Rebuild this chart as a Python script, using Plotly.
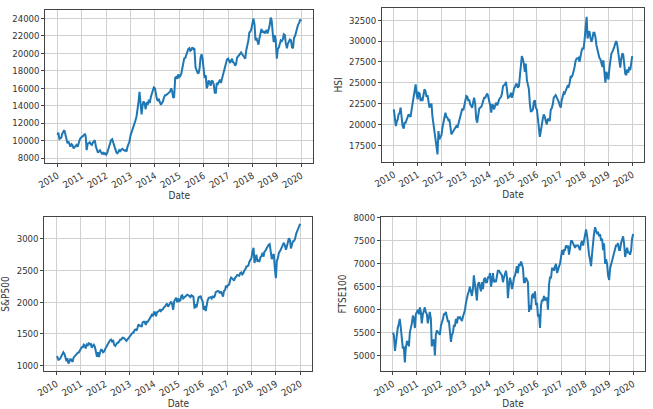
import pandas as pd
import plotly.graph_objects as go

# ---------------- data (semi-monthly readings, 2010-01 .. 2019-12, plus year end) ----------------
nikkei = [
    10650, 10900, 10200, 10300, 10350, 10800, 11100, 11200, 10700, 10200, 9700, 9900,
    9500, 9300, 9600, 9500, 9100, 9250, 9300, 9500, 9300, 9750, 10100, 10300,
    10400, 10500, 10600, 10800, 10500, 8900, 9650, 9700, 9800, 9600, 9500, 9750,
    9950, 10050, 9300, 9050, 8600, 8750, 8900, 8700, 8500, 8600, 8450, 8550,
    8400, 8550, 8900, 9300, 9700, 10050, 10150, 9800, 9400, 9000, 8700, 8550,
    8650, 8900, 8800, 8950, 9050, 8950, 8850, 8900, 8750, 9250, 9500, 9900,
    10600, 10900, 11300, 11500, 11900, 12300, 12800, 13500, 14500, 15600, 13500, 13000,
    14100, 14500, 14200, 13600, 14400, 14100, 14700, 14300, 15000, 15400, 15600, 16100,
    16000, 15300, 14700, 14600, 14800, 14400, 14100, 14300, 14500, 14900, 15200, 15200,
    15300, 15400, 15500, 15600, 16000, 15700, 14900, 15000, 17200, 17300, 17100, 17600,
    17300, 17400, 17700, 18300, 18800, 19400, 19500, 19900, 20200, 20500, 20600, 20300,
    20400, 20700, 20500, 20600, 18400, 18000, 17800, 17700, 18300, 19500, 19900, 19400,
    18500, 17200, 17500, 16000, 16300, 16900, 16700, 16300, 16900, 16800, 16400, 15500,
    15500, 16600, 16500, 16700, 17000, 16600, 17100, 17200, 17800, 18400, 19000, 19300,
    19400, 19100, 18900, 19200, 19400, 19000, 18900, 18600, 18800, 19500, 19700, 19900,
    20000, 20100, 19900, 19700, 19600, 19400, 20400, 20800, 21500, 22400, 22500, 22800,
    23400, 24000, 23300, 21500, 21800, 21300, 21000, 21700, 22300, 22800, 22400, 22600,
    22300, 22500, 22700, 22300, 22800, 23200, 24100, 23800, 22300, 21300, 22100, 21500,
    19400, 20500, 20700, 21200, 21500, 21400, 21600, 22200, 22100, 21200, 20600, 21100,
    21400, 21600, 21500, 20700, 20600, 21800, 22000, 22500, 23000, 23300, 23500, 23900,
    23700,
]

hsi = [
    21800, 20800, 19800, 20300, 20600, 21200, 21400, 22000, 21000, 19800, 19500, 20200,
    20200, 20500, 20700, 21200, 21000, 20900, 21800, 22400, 23600, 23800, 24800, 23700,
    23000, 23800, 23700, 22800, 23200, 22800, 23400, 24200, 24000, 23300, 23500, 22600,
    22000, 22300, 22500, 21000, 20000, 19200, 18000, 17800, 16400, 19200, 18200, 18500,
    18700, 19600, 20400, 21200, 21400, 20900, 20800, 20500, 20600, 19800, 18800, 19000,
    19200, 19400, 19600, 19800, 19600, 20000, 20600, 20900, 21500, 21900, 21700, 22300,
    22800, 23400, 23300, 22800, 23000, 22400, 22200, 22000, 22700, 23200, 22400, 20700,
    20200, 21300, 21900, 22000, 22100, 22400, 22800, 23200, 23200, 23400, 23700, 23400,
    22900, 22300, 21400, 22400, 22300, 21800, 22200, 22600, 22300, 22500, 23000, 23100,
    23300, 23700, 24600, 24700, 24800, 25100, 24100, 23200, 23300, 23400, 23800, 23200,
    23600, 24300, 24500, 24800, 24800, 24400, 24600, 25900, 27600, 28200, 27800, 27300,
    26300, 27300, 25300, 24800, 24200, 22500, 21500, 21600, 21800, 22700, 22900, 22000,
    21800, 20800, 19600, 18500, 19200, 20100, 20700, 21200, 20900, 20400, 20000, 20600,
    20600, 20400, 21800, 21900, 22400, 23200, 23300, 23500, 23200, 23000, 22700, 22300,
    22000, 22900, 23400, 23800, 23700, 24000, 24300, 24600, 24500, 24900, 25800, 25700,
    25900, 26300, 26900, 27600, 27900, 27900, 28000, 27500, 28500, 28800, 29200, 29000,
    30200, 31600, 32900, 30300, 30700, 31200, 30400, 29900, 30300, 31000, 31000, 30500,
    29500, 28900, 28300, 28000, 27800, 27300, 26900, 27700, 26200, 25000, 26300, 25900,
    25400, 26700, 27800, 28500, 28700, 28900, 29300, 29700, 30000, 29600, 28300, 27300,
    26800, 27800, 28500, 28400, 27100, 26100, 25900, 26600, 26200, 26900, 26500, 27500,
    28200,
]

sp500 = [
    1132, 1136, 1090, 1095, 1115, 1150, 1180, 1210, 1185, 1120, 1070, 1115,
    1030, 1065, 1110, 1080, 1060, 1125, 1145, 1175, 1185, 1200, 1205, 1240,
    1265, 1290, 1290, 1330, 1320, 1270, 1330, 1320, 1360, 1335, 1340, 1280,
    1315, 1330, 1290, 1200, 1140, 1210, 1135, 1200, 1250, 1245, 1210, 1220,
    1270, 1290, 1320, 1350, 1370, 1400, 1410, 1380, 1390, 1330, 1310, 1340,
    1360, 1360, 1380, 1410, 1410, 1440, 1440, 1430, 1410, 1390, 1415, 1420,
    1450, 1480, 1510, 1520, 1520, 1560, 1570, 1550, 1600, 1650, 1630, 1630,
    1610, 1680, 1690, 1690, 1640, 1690, 1690, 1720, 1760, 1790, 1800, 1780,
    1840, 1840, 1780, 1840, 1860, 1860, 1880, 1860, 1880, 1890, 1920, 1930,
    1960, 1980, 1930, 1960, 2000, 2010, 1970, 1880, 2020, 2040, 2070, 2000,
    2060, 2020, 2030, 2100, 2110, 2060, 2080, 2100, 2110, 2120, 2110, 2090,
    2080, 2110, 2100, 2090, 1900, 1970, 1920, 2030, 2080, 2080, 2100, 2050,
    2010, 1880, 1940, 1860, 1990, 2030, 2070, 2080, 2080, 2060, 2100, 2070,
    2100, 2160, 2170, 2180, 2170, 2140, 2170, 2130, 2090, 2180, 2190, 2260,
    2240, 2270, 2280, 2350, 2390, 2380, 2360, 2340, 2390, 2400, 2430, 2430,
    2420, 2460, 2470, 2440, 2460, 2500, 2520, 2560, 2580, 2580, 2640, 2680,
    2700, 2800, 2860, 2620, 2680, 2750, 2640, 2660, 2650, 2710, 2730, 2780,
    2720, 2800, 2820, 2850, 2900, 2910, 2920, 2750, 2680, 2740, 2760, 2560,
    2380, 2650, 2700, 2780, 2800, 2830, 2870, 2910, 2940, 2900, 2830, 2880,
    2960, 3010, 2980, 2850, 2920, 2960, 2970, 3000, 3080, 3120, 3140, 3200,
    3240,
]

ftse100 = [
    5500, 5450, 5100, 5300, 5400, 5600, 5700, 5800, 5600, 5300, 5150, 5200,
    4850, 5150, 5300, 5300, 5200, 5500, 5580, 5700, 5870, 5800, 5600, 5900,
    5950, 6000, 5900, 6050, 5950, 5700, 5900, 6000, 6050, 5950, 5900, 5700,
    5850, 5950, 5800, 5200, 5300, 5350, 5000, 5450, 5550, 5500, 5500, 5450,
    5650, 5700, 5800, 5900, 5900, 5950, 5800, 5750, 5750, 5450, 5300, 5450,
    5500, 5650, 5650, 5800, 5700, 5850, 5800, 5850, 5800, 5750, 5850, 5900,
    6000, 6150, 6300, 6350, 6400, 6500, 6400, 6300, 6450, 6750, 6550, 6300,
    6200, 6550, 6600, 6500, 6400, 6600, 6450, 6650, 6700, 6600, 6600, 6700,
    6700, 6800, 6500, 6650, 6800, 6600, 6650, 6600, 6800, 6850, 6850, 6800,
    6780, 6750, 6600, 6700, 6800, 6850, 6700, 6250, 6550, 6700, 6600, 6450,
    6550, 6700, 6750, 6900, 6950, 6800, 7000, 6950, 7050, 7000, 6900, 6600,
    6600, 6700, 6650, 6600, 5950, 6100, 6000, 6300, 6350, 6250, 6400, 6100,
    6150, 5850, 5900, 5600, 6100, 6200, 6200, 6300, 6200, 6250, 6250, 6000,
    6550, 6700, 6700, 6900, 6900, 6850, 6950, 7000, 6800, 6900, 6950, 7000,
    7150, 7300, 7200, 7300, 7300, 7400, 7350, 7400, 7200, 7400, 7500, 7500,
    7450, 7400, 7350, 7400, 7400, 7400, 7350, 7300, 7450, 7500, 7400, 7500,
    7700, 7750, 7600, 7300, 7200, 7100, 6950, 7200, 7500, 7650, 7800, 7700,
    7650, 7700, 7600, 7650, 7500, 7550, 7300, 7450, 7000, 7100, 7000, 6750,
    6650, 6900, 7000, 7100, 7150, 7250, 7300, 7400, 7400, 7450, 7300, 7300,
    7450, 7550, 7600, 7450, 7150, 7250, 7350, 7250, 7250, 7200, 7300, 7550,
    7650,
]

dates = list(pd.date_range("2010-01-01", periods=240, freq="SMS")) + [pd.Timestamp("2019-12-31")]
year_ticks = [f"{y}-01-01" for y in range(2010, 2021)]
year_labels = [str(y) for y in range(2010, 2021)]

series = [
    ("", nikkei, [7450, 25000], list(range(8000, 24001, 2000))),
    ("HSI", hsi, [15500, 33980], list(range(17500, 32501, 2500))),
    ("S&P500", sp500, [914, 3346], list(range(1000, 3001, 500))),
    ("FTSE100", ftse100, [4663, 8021], list(range(5000, 8001, 500))),
]

W, H = 653, 409
# pixel boxes (left, right, top, bottom)
boxes = [(34, 307, 5, 163), (377, 644, 3, 162), (33, 306, 219, 378), (376, 645, 219, 378)]
ystand = [4, 4, 10, 4]
xstand = [0, 0, 4, 4]

FONT = "Liberation Sans Narrow, DejaVu Sans Condensed, DejaVu Sans, sans-serif"
fig = go.Figure()
layout = dict(
    width=W, height=H, margin=dict(l=0, r=0, t=0, b=0),
    paper_bgcolor="white", plot_bgcolor="white", showlegend=False,
    font=dict(family=FONT, size=10, color="#333"),
)

for i, (name, vals, yr, yt) in enumerate(series):
    k = "" if i == 0 else str(i + 1)
    fig.add_trace(go.Scatter(x=dates, y=vals, mode="lines",
                             line=dict(color="#1f77b4", width=2),
                             xaxis="x" + k, yaxis="y" + k))
    l, r, t, b = boxes[i]
    common = dict(showline=True, linecolor="#444", linewidth=1, mirror=True,
                  showgrid=True, gridcolor="#d0d0d0", gridwidth=1,
                  ticks="outside", ticklen=3, tickcolor="#444",
                  tickfont=dict(size=9.5, color="#333"), zeroline=False)
    layout["xaxis" + k] = dict(
        domain=[l / W, r / W], anchor="y" + k,
        range=["2009-07-05", "2020-07-01"], type="date",
        tickvals=year_ticks, ticktext=year_labels, tickangle=-30,
        title=dict(text="Date", font=dict(size=10, color="#333"), standoff=xstand[i]),
        **common)
    layout["yaxis" + k] = dict(
        domain=[1 - b / H, 1 - t / H], anchor="x" + k,
        range=yr, tickvals=yt, ticktext=[str(v) for v in yt],
        title=dict(text=name, font=dict(size=10, color="#333"), standoff=ystand[i]),
        **common)

fig.update_layout(**layout)
fig.write_html("out.html")
